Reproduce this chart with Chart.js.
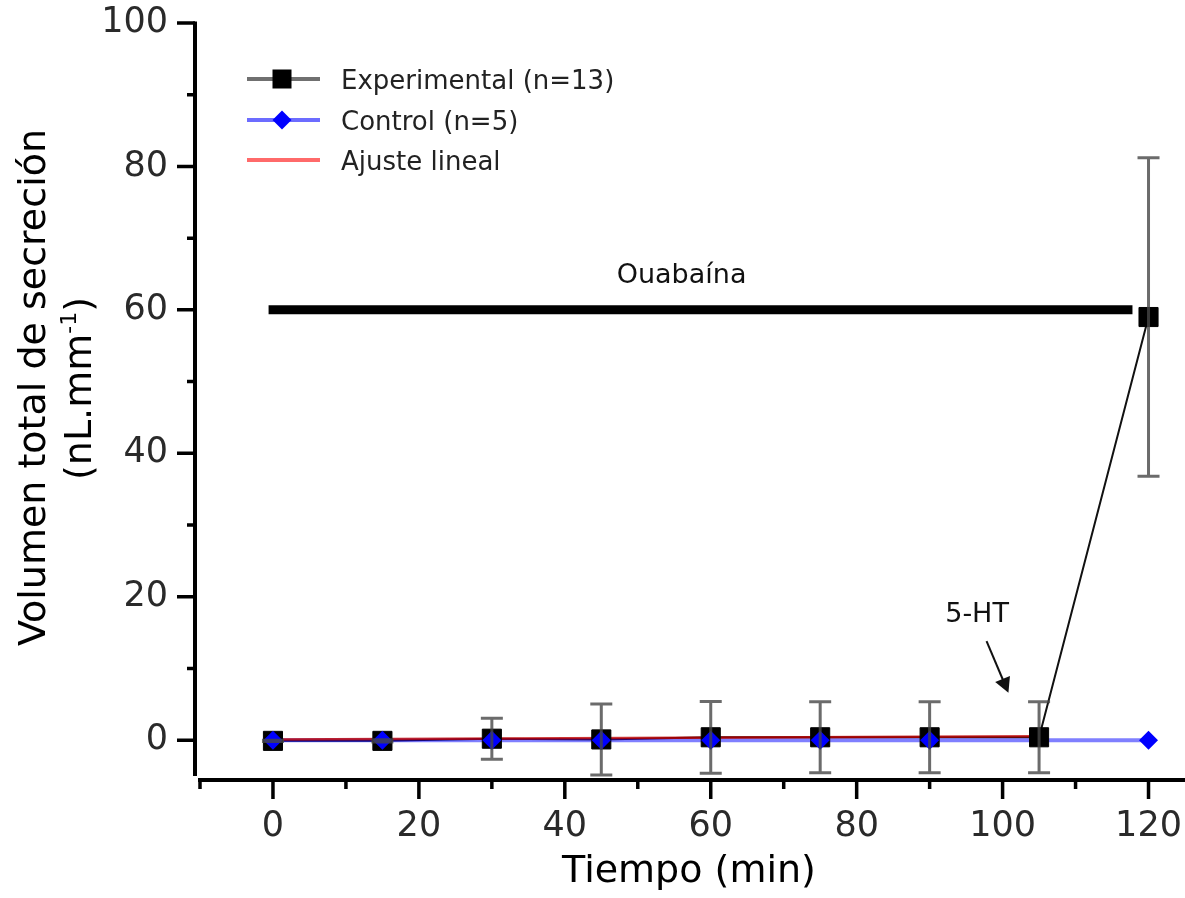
<!DOCTYPE html>
<html>
<head>
<meta charset="utf-8">
<script src="https://cdn.jsdelivr.net/npm/chart.js@4.4.1/dist/chart.umd.min.js"></script>
<style>
  html, body { margin: 0; padding: 0; background: #fff; }
  #wrap { width: 1185px; height: 898px; }
</style>
</head>
<body>
<div id="wrap"><canvas id="c" width="1185" height="898"></canvas></div>
<script>
// ---- data ----
const times      = [0, 15, 30, 45, 60, 75, 90, 105, 120];
const expMean    = [-0.1, -0.1, 0.2, 0.1, 0.4, 0.4, 0.4, 0.4, 59.0];
const expSE      = [0.1, 0.15, 2.85, 4.95, 5.0, 4.95, 4.95, 4.95, 22.2];
const ctrlMean   = [0, 0, 0, 0, 0, 0, 0, 0, 0];
const fitX       = [0, 105];
const fitY       = [0.1, 0.55];
const xTickLabels = [0, 20, 40, 60, 80, 100, 120];
const yTickLabels = [0, 20, 40, 60, 80, 100];
const seriesNames = ['Experimental (n=13)', 'Control (n=5)', 'Ajuste lineal'];
const ouabaina   = { label: 'Ouabaína', from: -0.6, to: 117.8, y: 60 };
const serotonin  = { label: '5-HT' };

const pts = (xs, ys) => xs.map((x, i) => ({ x: x, y: ys[i] }));
const FONT = "'DejaVu Sans', Verdana, sans-serif";

const decor = {
  id: 'decor',
  afterDatasetsDraw(chart) {
    const ctx = chart.ctx, xs = chart.scales.x, ys = chart.scales.y;
    ctx.save();
    ctx.strokeStyle = 'rgba(70,70,70,0.8)';
    ctx.lineWidth = 3;
    times.forEach((t, i) => {
      const px = xs.getPixelForValue(t);
      const top = ys.getPixelForValue(expMean[i] + expSE[i]);
      const bot = ys.getPixelForValue(expMean[i] - expSE[i]);
      ctx.beginPath();
      ctx.moveTo(px, top); ctx.lineTo(px, bot);
      ctx.moveTo(px - 11, top); ctx.lineTo(px + 11, top);
      ctx.moveTo(px - 11, bot); ctx.lineTo(px + 11, bot);
      ctx.stroke();
    });
    ctx.restore();
  },
  afterDraw(chart) {
    const ctx = chart.ctx, xs = chart.scales.x, ys = chart.scales.y, ca = chart.chartArea;
    ctx.save();
    const yAxisX = ca.left - 5;
    const xAxisY = ca.bottom + 4;
    ctx.strokeStyle = '#000';
    ctx.lineWidth = 4;
    ctx.beginPath();
    ctx.moveTo(yAxisX, ca.top - 1.5); ctx.lineTo(yAxisX, ca.bottom);
    ctx.moveTo(ca.left - 2, xAxisY); ctx.lineTo(ca.right, xAxisY);
    ctx.stroke();
    ctx.lineWidth = 3.5;
    ctx.beginPath();
    for (let v = 0; v <= 100; v += 10) {
      const py = ys.getPixelForValue(v);
      const len = (v % 20 === 0) ? 18 : 8;
      ctx.moveTo(yAxisX - len, py); ctx.lineTo(yAxisX, py);
    }
    for (let v = -10; v <= 120; v += 10) {
      const px = xs.getPixelForValue(v);
      const len = (v % 20 === 0) ? 19 : 9;
      ctx.moveTo(px, xAxisY); ctx.lineTo(px, xAxisY + len);
    }
    ctx.stroke();
    ctx.fillStyle = '#2a2a2a';
    ctx.font = '35px ' + FONT;
    ctx.textAlign = 'right'; ctx.textBaseline = 'middle';
    yTickLabels.forEach(v => ctx.fillText(String(v), yAxisX - 27, ys.getPixelForValue(v)));
    ctx.textAlign = 'center';
    xTickLabels.forEach(v => ctx.fillText(String(v), xs.getPixelForValue(v), xAxisY + 47));
    ctx.fillStyle = '#000';
    ctx.font = '38px ' + FONT;
    ctx.textBaseline = 'alphabetic';
    ctx.fillText('Tiempo (min)', 689, 882);
    ctx.save();
    ctx.translate(45, 387.5);
    ctx.rotate(-Math.PI / 2);
    ctx.textAlign = 'center';
    ctx.fillText('Volumen total de secreción', 0, 0);
    ctx.restore();
    ctx.save();
    ctx.translate(91, 388.5);
    ctx.rotate(-Math.PI / 2);
    ctx.textAlign = 'left';
    const big = '38px ' + FONT, small = '22px ' + FONT;
    ctx.font = big; const w1 = ctx.measureText('(nL.mm').width; const w3 = ctx.measureText(')').width;
    ctx.font = small; const w2 = ctx.measureText('-1').width;
    let x0 = -(w1 + w2 + w3) / 2;
    ctx.font = big; ctx.fillText('(nL.mm', x0, 0);
    ctx.font = small; ctx.fillText('-1', x0 + w1, -15);
    ctx.font = big; ctx.fillText(')', x0 + w1 + w2, 0);
    ctx.restore();

    ctx.strokeStyle = '#000';
    ctx.lineWidth = 9;
    ctx.beginPath();
    const oy = ys.getPixelForValue(ouabaina.y);
    ctx.moveTo(xs.getPixelForValue(ouabaina.from), oy);
    ctx.lineTo(xs.getPixelForValue(ouabaina.to), oy);
    ctx.stroke();
    ctx.fillStyle = '#111';
    ctx.font = '27px ' + FONT;
    ctx.textAlign = 'center'; ctx.textBaseline = 'alphabetic';
    ctx.fillText(ouabaina.label, xs.getPixelForValue(56), ys.getPixelForValue(60) - 27);

    ctx.fillText(serotonin.label, xs.getPixelForValue(96.5), ys.getPixelForValue(16.5));
    const ax0 = xs.getPixelForValue(97.8), ay0 = ys.getPixelForValue(13.8);
    const ax1 = xs.getPixelForValue(100.8), ay1 = ys.getPixelForValue(6.6);
    const ang = Math.atan2(ay1 - ay0, ax1 - ax0);
    ctx.strokeStyle = '#111'; ctx.lineWidth = 2;
    ctx.beginPath(); ctx.moveTo(ax0, ay0);
    ctx.lineTo(ax1 - 12 * Math.cos(ang), ay1 - 12 * Math.sin(ang)); ctx.stroke();
    ctx.fillStyle = '#111';
    ctx.beginPath();
    ctx.moveTo(ax1, ay1);
    ctx.lineTo(ax1 - 15 * Math.cos(ang) + 8 * Math.sin(ang), ay1 - 15 * Math.sin(ang) - 8 * Math.cos(ang));
    ctx.lineTo(ax1 - 15 * Math.cos(ang) - 8 * Math.sin(ang), ay1 - 15 * Math.sin(ang) + 8 * Math.cos(ang));
    ctx.closePath(); ctx.fill();

    const rows = [79, 120, 160];
    const lcol = ['#707070', '#6c6cff', '#ff6a6a'];
    rows.forEach((ry, i) => {
      ctx.strokeStyle = lcol[i]; ctx.lineWidth = 4;
      ctx.beginPath(); ctx.moveTo(247, ry); ctx.lineTo(320, ry); ctx.stroke();
      ctx.fillStyle = '#222';
      ctx.font = '26px ' + FONT;
      ctx.textAlign = 'left'; ctx.textBaseline = 'alphabetic';
      ctx.fillText(seriesNames[i], 341, ry + 10);
    });
    ctx.fillStyle = '#000';
    ctx.fillRect(282 - 9.5, rows[0] - 9.5, 19, 19);
    ctx.fillStyle = '#0000ff';
    ctx.beginPath();
    ctx.moveTo(282, rows[1] - 9.5); ctx.lineTo(291.5, rows[1]);
    ctx.lineTo(282, rows[1] + 9.5); ctx.lineTo(272.5, rows[1]); ctx.closePath(); ctx.fill();
    ctx.restore();
  }
};

new Chart(document.getElementById('c'), {
  type: 'line',
  data: {
    datasets: [
      { label: 'ctrlPts', data: pts(times, ctrlMean), showLine: false, order: 1,
        pointStyle: 'rectRot', pointRadius: times.map(t => t === 105 ? 0 : 9.5),
        pointBackgroundColor: '#0000ff', pointBorderColor: '#0000ff', pointBorderWidth: 0 },
      { label: 'expPts', data: pts(times, expMean), showLine: false, order: 2,
        pointStyle: 'rect', pointRadius: 13.5, pointBackgroundColor: '#000',
        pointBorderColor: '#000', pointBorderWidth: 1 },
      { label: seriesNames[2], data: pts(fitX, fitY), order: 3, borderColor: 'rgba(190,0,0,0.8)',
        borderWidth: 2.5, pointRadius: 0, tension: 0 },
      { label: seriesNames[1], data: pts(times, ctrlMean), order: 4, borderColor: 'rgba(0,0,255,0.5)',
        borderWidth: 4, pointRadius: 0, tension: 0 },
      { label: seriesNames[0], data: pts(times, expMean), order: 5, borderColor: '#111',
        borderWidth: 2, pointRadius: 0, tension: 0 }
    ]
  },
  options: {
    responsive: false,
    animation: false,
    devicePixelRatio: 1,
    layout: { autoPadding: false, padding: { left: 200, right: 0, top: 23, bottom: 122 } },
    plugins: { legend: { display: false }, tooltip: { enabled: false } },
    scales: {
      x: { type: 'linear', min: -10, max: 125, display: false },
      y: { type: 'linear', min: -5, max: 100, display: false }
    }
  },
  plugins: [decor]
});
</script>
</body>
</html>
